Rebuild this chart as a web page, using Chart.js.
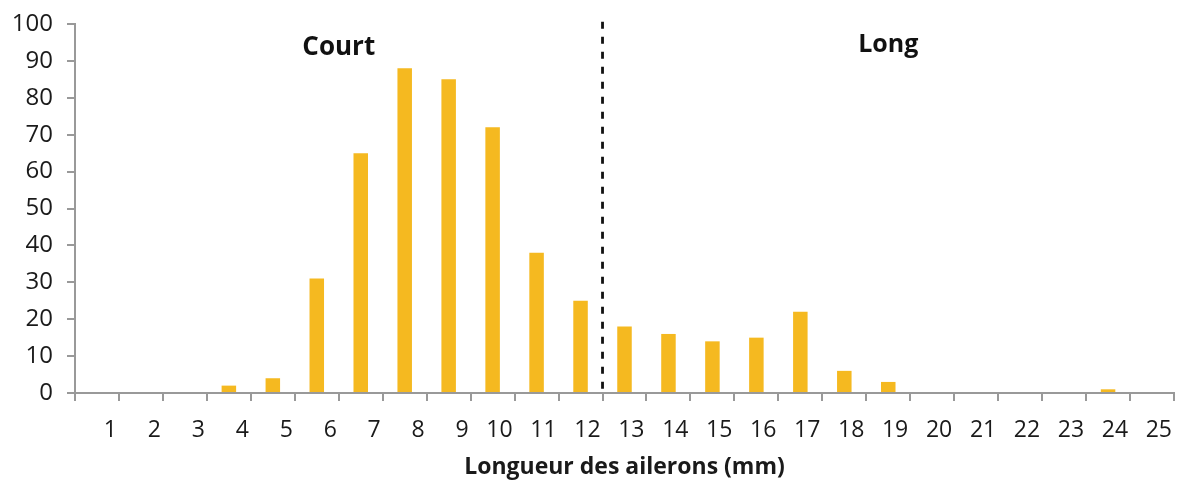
<!DOCTYPE html>
<html>
<head>
<meta charset="utf-8">
<script src="https://cdn.jsdelivr.net/npm/chart.js@4/dist/chart.umd.min.js"></script>
<style>
html,body{margin:0;padding:0;background:#fff;}
#wrap{width:1181px;height:481px;position:relative;}
</style>
</head>
<body>
<div id="wrap"><canvas id="c" width="1181" height="481"></canvas></div>
<script>
const categories = ['1','2','3','4','5','6','7','8','9','10','11','12','13','14','15','16','17','18','19','20','21','22','23','24','25'];
const counts = [0,0,0,2,4,31,65,88,85,72,38,25,18,16,14,15,22,6,3,0,0,0,0,1,0];
const yTicks = [0,10,20,30,40,50,60,70,80,90,100];
const xTitle = 'Longueur des ailerons (mm)';
const groupLabels = ['Court','Long'];

const FONT = "'Open Sans', sans-serif";

const overlay = {
  id: 'overlay',
  afterDatasetsDraw(chart) {
    const {ctx, scales:{x, y}} = chart;
    // dashed divider between categories 12 and 13
    const xd = (x.getPixelForValue(11) + x.getPixelForValue(12)) / 2;
    ctx.save();
    ctx.strokeStyle = '#111';
    ctx.lineWidth = 2.8;
    ctx.setLineDash([7, 8]);
    ctx.beginPath();
    ctx.moveTo(xd, y.getPixelForValue(100.6));
    ctx.lineTo(xd, y.getPixelForValue(0));
    ctx.stroke();
    ctx.restore();
    // group labels
    ctx.save();
    ctx.fillStyle = '#111';
    ctx.textAlign = 'center';
    ctx.textBaseline = 'alphabetic';
    ctx.font = "bold 26px " + FONT;
    const cx = (x.getPixelForValue(5) + x.getPixelForValue(6)) / 2;
    ctx.fillText(groupLabels[0], cx, y.getPixelForValue(91.5));
    ctx.font = "bold 25px " + FONT;
    ctx.fillText(groupLabels[1], x.getPixelForValue(18), y.getPixelForValue(92.5));
    ctx.restore();
  }
};

new Chart(document.getElementById('c'), {
  type: 'bar',
  data: {
    labels: categories,
    datasets: [{
      data: counts,
      backgroundColor: '#F5B920',
      borderWidth: 0,
      categoryPercentage: 1,
      barPercentage: 0.33
    }]
  },
  options: {
    responsive: false,
    animation: false,
    layout: { padding: { left: 0, right: 7, top: 24, bottom: 0 } },
    plugins: { legend: { display: false }, tooltip: { enabled: false } },
    scales: {
      x: {
        type: 'category',
        offset: true,
        grid: { display: true, offset: true, drawOnChartArea: false, tickLength: 8, color: '#999', lineWidth: 2 },
        border: { display: true, color: '#999', width: 2 },
        ticks: {
          color: '#1a1a1a',
          font: { family: FONT, size: 23 },
          align: 'end',
          labelOffset: 20,
          maxRotation: 0,
          autoSkip: false,
          padding: 16
        },
        title: {
          display: true,
          text: xTitle,
          color: '#1a1a1a',
          font: { family: FONT, size: 23, weight: 'bold' },
          padding: { top: 4, bottom: 0 }
        },
        afterFit(scale) { scale.height = 88; scale.paddingLeft = 0; scale.paddingRight = 0; }
      },
      y: {
        min: 0,
        max: 100,
        afterBuildTicks(scale) { scale.ticks = yTicks.map(v => ({ value: v })); },
        grid: { display: true, drawOnChartArea: false, tickLength: 8, color: '#999', lineWidth: 2 },
        border: { display: true, color: '#999', width: 2 },
        ticks: {
          color: '#1a1a1a',
          font: { family: FONT, size: 24 },
          padding: 14
        },
        afterFit(scale) { scale.width = 75; scale.paddingTop = 0; scale.paddingBottom = 0; }
      }
    }
  },
  plugins: [overlay]
});
</script>
</body>
</html>
